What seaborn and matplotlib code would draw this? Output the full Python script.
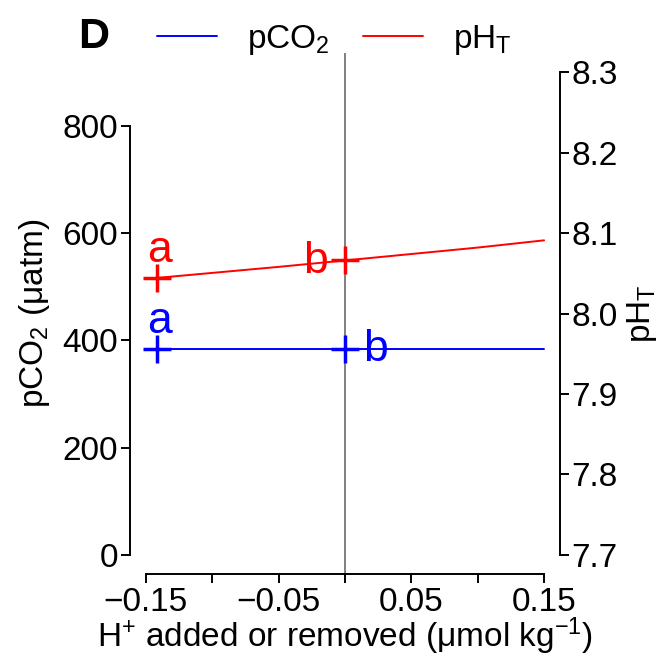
import matplotlib
matplotlib.use("Agg")
import matplotlib.pyplot as plt
from matplotlib.lines import Line2D
from matplotlib.ticker import FixedLocator
import seaborn as sns

# H+ added (negative) or removed (positive), umol/kg
h_line = [-0.15, -0.10, -0.05, 0.0, 0.05, 0.10, 0.15]
pco2_line = [384, 384, 384, 384, 384, 384, 384]
ph_line = [8.043, 8.0505, 8.058, 8.066, 8.074, 8.082, 8.091]

# measured treatments
h_obs = [-0.142, 0.0]
pco2_obs = [384, 384]
ph_obs = [8.044, 8.066]
pco2_letters = ["a", "b"]
ph_letters = ["a", "b"]

x_major = [-0.15, -0.05, 0.05, 0.15]
x_minor = [-0.10, 0.0, 0.10]
x_major_labels = ["\u22120.15", "\u22120.05", "0.05", "0.15"]
pco2_ticks = [0, 200, 400, 600, 800]
ph_ticks = [7.7, 7.8, 7.9, 8.0, 8.1, 8.2, 8.3]

sns.set_style("ticks")
plt.rcParams["font.family"] = ["Liberation Sans", "DejaVu Sans"]
plt.rcParams["mathtext.fontset"] = "custom"
plt.rcParams["mathtext.rm"] = "Liberation Sans"
plt.rcParams["mathtext.it"] = "Liberation Sans:italic"
plt.rcParams["mathtext.bf"] = "Liberation Sans:bold"
for key in ("text.color", "axes.labelcolor", "xtick.color", "ytick.color",
            "axes.edgecolor"):
    plt.rcParams[key] = "black"

FS = 24
W, H = 662, 656
fig = plt.figure(figsize=(W / 100, H / 100), dpi=100)
ax = fig.add_axes([130 / W, (H - 574) / H, 430 / W, 521 / H])
ax2 = ax.twinx()

BLUE, RED = "#0000ff", "#ff0000"

ax.axvline(0, color="#808080", lw=1.4, zorder=1)
sns.lineplot(x=h_line, y=pco2_line, ax=ax, color=BLUE, linewidth=1.4, zorder=2)
sns.scatterplot(x=h_obs, y=pco2_obs, ax=ax, color=BLUE, marker="+", s=380,
                linewidth=2.5, zorder=3)
sns.lineplot(x=h_line, y=ph_line, ax=ax2, color=RED, linewidth=1.4, zorder=2)
sns.scatterplot(x=h_obs, y=ph_obs, ax=ax2, color=RED, marker="+", s=380,
                linewidth=2.5, zorder=3)

# significance letters next to each treatment
pco2_offsets = [(1.8, 11.5, "center"), (21.6, -8.6, "center")]
ph_offsets = [(1.8, 11.5, "center"), (-21.6, -9.4, "center")]
for xv, yv, lab, (dx, dy, ha) in zip(h_obs, pco2_obs, pco2_letters, pco2_offsets):
    ax.annotate(lab, (xv, yv), xytext=(dx, dy), textcoords="offset points",
                ha=ha, va="baseline", color=BLUE, fontsize=32)
for xv, yv, lab, (dx, dy, ha) in zip(h_obs, ph_obs, ph_letters, ph_offsets):
    ax2.annotate(lab, (xv, yv), xytext=(dx, dy), textcoords="offset points",
                 ha=ha, va="baseline", color=RED, fontsize=32)

ax.set_xlim(-0.162, 0.162)
ax.set_ylim(-36, 936)
ax2.set_ylim(7.676, 8.324)

ax.set_xticks(x_major)
ax.set_xticklabels(x_major_labels)
ax.xaxis.set_minor_locator(FixedLocator(x_minor))
ax.set_yticks(pco2_ticks)
ax.set_yticklabels([str(v) for v in pco2_ticks])
ax2.set_yticks(ph_ticks)
ax2.set_yticklabels([f"{v:.1f}" for v in ph_ticks])

for a in (ax, ax2):
    for s in a.spines.values():
        s.set_linewidth(1.4)
        s.set_color("black")
    a.set_facecolor("none")
ax.spines["top"].set_visible(False)
ax.spines["right"].set_visible(False)
ax.spines["left"].set_bounds(0, 800)
ax.spines["bottom"].set_bounds(-0.15, 0.15)
for side in ("top", "left", "bottom"):
    ax2.spines[side].set_visible(False)
ax2.spines["right"].set_bounds(7.7, 8.3)

ax.tick_params(axis="both", which="both", direction="out", length=6.5,
               width=1.4, labelsize=FS, color="black", labelcolor="black")
ax.tick_params(axis="y", pad=2)
ax.tick_params(axis="x", pad=3)
ax2.tick_params(axis="y", direction="out", length=6.5, width=1.4,
                labelsize=FS, pad=1.5, color="black", labelcolor="black")

ax.set_xlabel("H$^{+}$ added or removed (\u03bcmol kg$^{\u2212\mathrm{1}}$)",
              fontsize=FS, labelpad=-2)
ax.set_ylabel("pCO$_{\mathrm{2}}$ (\u03bcatm)", fontsize=FS)
ax.yaxis.set_label_coords(-0.182, 0.5)
ax2.set_ylabel("pH$_{\mathrm{T}}$", fontsize=FS, rotation=90)
ax2.yaxis.set_label_coords(1.152, 0.5)

handles = [Line2D([], [], color=BLUE, lw=1.4), Line2D([], [], color=RED, lw=1.4)]
fig.legend(handles, ["pCO$_{\mathrm{2}}$", "pH$_{\mathrm{T}}$"], ncol=2,
           frameon=False, loc="center left",
           bbox_to_anchor=(157 / W, 1 - 40 / H), bbox_transform=fig.transFigure,
           fontsize=FS, handlelength=1.8, handletextpad=0.9, columnspacing=1.0,
           borderpad=0, borderaxespad=0)

fig.text(78 / W, 1 - 37 / H, "D", fontsize=31, fontweight="bold",
         ha="left", va="center")

fig.savefig("out.png", dpi=100)
